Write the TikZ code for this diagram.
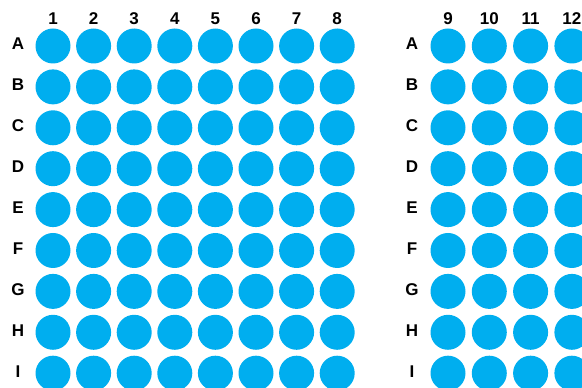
\documentclass[tikz,border=0pt]{standalone}
\usepackage{fontspec}
\setmainfont{Liberation Sans}
\usetikzlibrary{positioning}
\definecolor{well}{HTML}{00AEEF}
\tikzset{
  wellnode/.style={circle,fill=well,minimum size=35pt,inner sep=0pt},
  lbl/.style={font=\fontsize{17}{17}\selectfont\bfseries,inner sep=0pt}
}

\begin{document}
\begin{tikzpicture}[x=1pt,y=1pt]
  \useasboundingbox (0,0) rectangle (582,388);
  \clip (0,0) rectangle (582,388);

  % left plate
  \foreach \c in {1,...,8} {
    \node[lbl] (n\c) at ({53+40.6*(\c-1)},369) {\c};
  }
  \foreach \row [count=\r from 0] in {A,B,C,D,E,F,G,H,I} {
    \node[lbl] (L\row) at (18,{344-40.9*\r}) {\row};
    \foreach \c in {1,...,8}
      \node[wellnode] (\row\c) at ({53+40.6*(\c-1)},{342-40.9*\r}) {};
  }

  % right plate
  \foreach \c [count=\k from 0] in {9,10,11,12} {
    \node[lbl] (n\c) at ({448+41.3*\k},369) {\c};
  }
  \foreach \row [count=\r from 0] in {A,B,C,D,E,F,G,H,I} {
    \node[lbl] (R\row) at (412,{344-40.9*\r}) {\row};
    \foreach \c [count=\k from 0] in {9,10,11,12}
      \node[wellnode] (\row\c) at ({448+41.3*\k},{342-40.9*\r}) {};
  }
\end{tikzpicture}
\end{document}
